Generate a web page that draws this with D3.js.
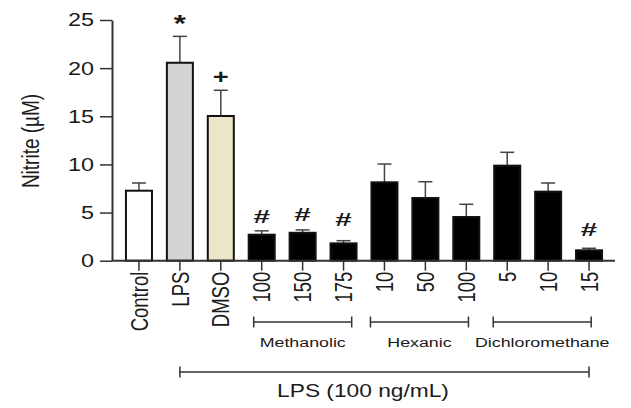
<!DOCTYPE html>
<html>
<head>
<meta charset="utf-8">
<script src="https://cdn.jsdelivr.net/npm/d3@7"></script>
<style>
  body { margin: 0; background: #fff; }
  text { font-family: "Liberation Sans", Arial, sans-serif; fill: #1a1a1a; }
</style>
</head>
<body>
<div id="chart"></div>
<script>
// bar labels, left to right
const categories = ["Control", "LPS", "DMSO", "100", "150", "175", "10", "50", "100", "5", "10", "15"];
// nitrite (µM), mean and upper error
const values = [7.27, 20.56, 15.03, 2.70, 2.90, 1.80, 8.14, 6.51, 4.54, 9.87, 7.17, 1.08];
const errors = [0.80, 2.74, 2.67, 0.40, 0.30, 0.28, 1.90, 1.69, 1.32, 1.39, 0.90, 0.21];
// significance marks and the level they sit at
const marks = ["", "*", "+", "#", "#", "#", "", "", "", "", "", "#"];
const markLevels = [null, 23.75, 18.35, 3.95, 4.15, 3.6, null, null, null, null, null, 2.56];
// extract groups
const groupNames = ["Methanolic", "Hexanic", "Dichloromethane"];
const groupFirst = [3, 6, 9];
const groupLast = [5, 8, 11];
const yTicks = [0, 5, 10, 15, 20, 25];
const lpsLabel = "LPS (100 ng/mL)";

const width = 631, height = 408;
const stretch = 1.3; // the original figure is a bit wide

const svg = d3.select("#chart").append("svg")
  .attr("width", width)
  .attr("height", height);

const x = d3.scaleBand()
  .domain(d3.range(categories.length))
  .range([118.5, 609.5])
  .paddingInner(0.364)
  .paddingOuter(0.182);

const y = d3.scaleLinear()
  .domain([0, 25])
  .range([260.7, 20]);

const cx = i => x(i) + x.bandwidth() / 2;

function fillFor(i) {
  if (i === 0) return "#ffffff";
  if (i === 1) return "#d4d4d4";
  if (i === 2) return "#ece5c9";
  return "#000000";
}

// error bars (upper only)
const err = svg.append("g")
  .attr("stroke", "#444")
  .attr("stroke-width", 1.5);

err.selectAll("line.v")
  .data(values)
  .join("line")
  .attr("class", "v")
  .attr("x1", (d, i) => cx(i))
  .attr("x2", (d, i) => cx(i))
  .attr("y1", d => y(d))
  .attr("y2", (d, i) => y(d + errors[i]));

err.selectAll("line.c")
  .data(values)
  .join("line")
  .attr("class", "c")
  .attr("x1", (d, i) => cx(i) - 7)
  .attr("x2", (d, i) => cx(i) + 7)
  .attr("y1", (d, i) => y(d + errors[i]))
  .attr("y2", (d, i) => y(d + errors[i]));

// bars
svg.append("g")
  .selectAll("rect")
  .data(values)
  .join("rect")
  .attr("x", (d, i) => x(i))
  .attr("y", d => y(d))
  .attr("width", x.bandwidth())
  .attr("height", d => y(0) - y(d))
  .attr("fill", (d, i) => fillFor(i))
  .attr("stroke", "#111")
  .attr("stroke-width", 2);

// y axis
const yAxis = svg.append("g")
  .attr("transform", `translate(112,0)`)
  .call(d3.axisLeft(y).tickValues(yTicks).tickSize(12).tickSizeOuter(0).tickFormat(""));
yAxis.select(".domain").attr("stroke", "#333").attr("stroke-width", 2);
yAxis.selectAll(".tick line").attr("stroke", "#333").attr("stroke-width", 1.5);

svg.append("g")
  .selectAll("text")
  .data(yTicks)
  .join("text")
  .attr("transform", d => `translate(94,${y(d)}) scale(${stretch},1)`)
  .attr("text-anchor", "end")
  .attr("dy", "0.36em")
  .attr("font-size", 18)
  .text(d => d);

// x axis
const xAxis = svg.append("g")
  .attr("transform", `translate(0,${y(0)})`)
  .call(d3.axisBottom(x).tickSize(10).tickSizeOuter(0).tickFormat(""));
xAxis.select(".domain").attr("d", `M112,0H615`).attr("stroke", "#333").attr("stroke-width", 2);
xAxis.selectAll(".tick line").attr("stroke", "#333").attr("stroke-width", 1.5);

svg.append("g")
  .selectAll("text")
  .data(categories)
  .join("text")
  .attr("transform", (d, i) => `translate(${cx(i)},${y(0) + 11}) rotate(-90) scale(1,${stretch})`)
  .attr("text-anchor", "end")
  .attr("dy", "0.36em")
  .attr("font-size", 18.5)
  .text(d => d);

// y title
svg.append("text")
  .attr("transform", `translate(30,141) rotate(-90) scale(1,${stretch})`)
  .attr("text-anchor", "middle")
  .attr("dy", "0.36em")
  .attr("font-size", 19)
  .text("Nitrite (µM)");

// significance marks
svg.append("g")
  .selectAll("text")
  .data(marks.map((m, i) => ({ m, i, v: markLevels[i] })).filter(d => d.m))
  .join("text")
  .attr("transform", d => `translate(${cx(d.i)},${y(d.v)}) scale(${d.m === "#" ? 1.65 : stretch},1)`)
  .attr("text-anchor", "middle")
  .attr("font-weight", "bold")
  .attr("font-size", d => d.m === "*" ? 24 : d.m === "+" ? 21 : 18)
  .text(d => d.m);

// group brackets
const bracketDx = [-8, -14, -14];
const bracket = (g, x0, x1, yy) => {
  g.append("path")
    .attr("d", `M${x0},${yy}H${x1}M${x0},${yy - 5.5}V${yy + 5.5}M${x1},${yy - 5.5}V${yy + 5.5}`)
    .attr("fill", "none")
    .attr("stroke", "#333")
    .attr("stroke-width", 1.5);
};

const groups = svg.append("g");
groupNames.forEach((name, k) => {
  const x0 = cx(groupFirst[k]) + bracketDx[k];
  const x1 = x0 + 98;
  bracket(groups, x0, x1, 322);
  groups.append("text")
    .attr("transform", `translate(${(x0 + x1) / 2},346.5) scale(${stretch},1)`)
    .attr("text-anchor", "middle")
    .attr("font-size", 13.7)
    .text(name);
});

// LPS bracket
bracket(groups, cx(1), cx(categories.length - 1), 372);
groups.append("text")
  .attr("transform", `translate(363,397) scale(${stretch},1)`)
  .attr("text-anchor", "middle")
  .attr("font-size", 17.5)
  .text(lpsLabel);
</script>
</body>
</html>
